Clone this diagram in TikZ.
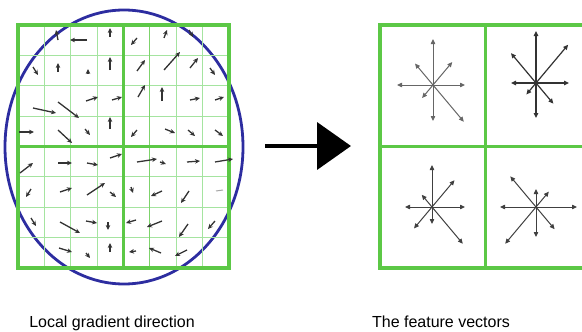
\documentclass[tikz,border=0pt]{standalone}
\usepackage{fontspec}
\setmainfont{Liberation Sans}
\usetikzlibrary{arrows.meta}
\definecolor{boxgreen}{RGB}{92,200,70}
\definecolor{gridgreen}{RGB}{165,228,160}
\definecolor{ringblue}{RGB}{45,45,160}
\tikzset{
  grad/.style={-{Stealth[length=5pt,width=4.6pt]}, line width=1.3pt, black!80},
  feat/.style={-{Triangle[length=5pt,width=4.4pt]}, line width=1pt, black!60},
  label/.style={font=\fontsize{16}{19}\selectfont, anchor=base}
}

\begin{document}
\begin{tikzpicture}[x=1pt, y=-1pt]
    \useasboundingbox (0,0) rectangle (582,332);
    \clip (0,0) rectangle (582,332);

    % 蓝色椭圆窗口
    \draw[ringblue, line width=2.8pt] (124,147) ellipse [x radius=119pt, y radius=137pt];

    % 8x8 细网格
    \foreach \i in {1,...,7} {
        \draw[gridgreen, line width=1pt] ({18+26.375*\i},25) -- ({18+26.375*\i},268);
        \draw[gridgreen, line width=1pt] (18,{25+30.375*\i}) -- (229,{25+30.375*\i});
    }
    \draw[boxgreen!80, line width=1.1pt] (149.5,25) -- (149.5,268);

    % 2x2 粗网格
    \draw[boxgreen, line width=3pt] (123.5,25) -- (123.5,268);
    \draw[boxgreen, line width=3pt] (18,146.5) -- (229,146.5);
    \draw[boxgreen, line width=4pt] (18,25) rectangle (229,268);

    % 局部梯度方向
    \foreach \ax/\ay/\bx/\by in {
        58/40/56/30, 87/40/70/40, 110/37/110/28, 33/67/38/75, 58/72/58/63,
        88/74/88/69, 110/70/110/57, 33/108/56/113, 58/102/79/118, 86/101/98/97,
        112/100/122/97, 19/132/34/132, 58/130/72/143, 85/129/90/135, 110/129/110/117,
        137/38/131/45, 164/38/167/30, 189/30/193/37, 137/71/145/60, 164/70/180/52,
        190/68/198/58, 210/68/215/75, 138/97/145/85, 162/101/162/87, 190/100/200/98,
        215/100/224/97, 137/130/131/137, 165/129/175/133, 188/130/195/136, 215/130/223/136,
        20/173/33/163, 58/163/72/163, 87/163/98/165, 110/158/122/154, 31/189/26/197,
        60/192/72/188, 87/195/105/183, 110/192/116/197, 31/218/36/226, 60/222/80/233,
        86/221/97/223, 108/222/108/230, 59/248/72/252, 86/253/90/258, 110/252/110/243,
        137/162/157/159, 160/162/166/164, 187/162/200/161, 215/162/233/159, 131/187/133/193,
        162/191/151/196, 189/191/181/203, 136/220/126/223, 162/221/147/227, 188/224/179/237,
        215/221/208/229, 136/251/129/252, 161/253/149/248, 187/250/175/256}
        \draw[grad] (\ax,\ay) -- (\bx,\by);
    \draw[black!35, line width=1pt] (216,191) -- (223,190);

    % 中间大箭头
    \coordinate (arrS) at (265,146);
    \coordinate (arrE) at (351,146);
    \draw[line width=4pt, -{Triangle[length=34pt,width=47pt]}] (arrS) -- (arrE);

    % 右侧 2x2 方框
    \draw[boxgreen, line width=4pt] (380,25) rectangle (592,268);
    \draw[boxgreen, line width=3pt] (485,25) -- (485,268);
    \draw[boxgreen, line width=3pt] (380,146.5) -- (590,146.5);

    % 特征向量
    \coordinate (s1) at (433,85);
    \coordinate (s2) at (536,83);
    \coordinate (s3) at (432,207);
    \coordinate (s4) at (536,207);
    \foreach \ang/\len in {0/32, 50/30, 90/46, 130/28, 180/36, 230/17, 270/36, 310/48}
        \draw[feat] (s1) -- ++(\ang:\len pt);
    \foreach \ang/\len in {0/33, 50/50, 90/52, 130/39, 180/25, 230/15, 270/35, 310/27}
        \draw[feat, black!80, line width=1.2pt] (s2) -- ++(\ang:\len pt);
    \foreach \ang/\len in {0/33, 50/35, 90/42, 130/16, 180/27, 230/28, 270/17, 310/48}
        \draw[feat, black!75] (s3) -- ++(\ang:\len pt);
    \foreach \ang/\len in {0/41, 50/20, 90/18, 130/40, 180/36, 230/48, 270/30, 310/29}
        \draw[feat, black!75] (s4) -- ++(\ang:\len pt);

    % 标题
    \node[label] (lblL) at (112,327) {Local gradient direction};
    \node[label] (lblR) at (441,327) {The feature vectors};
\end{tikzpicture}
\end{document}
